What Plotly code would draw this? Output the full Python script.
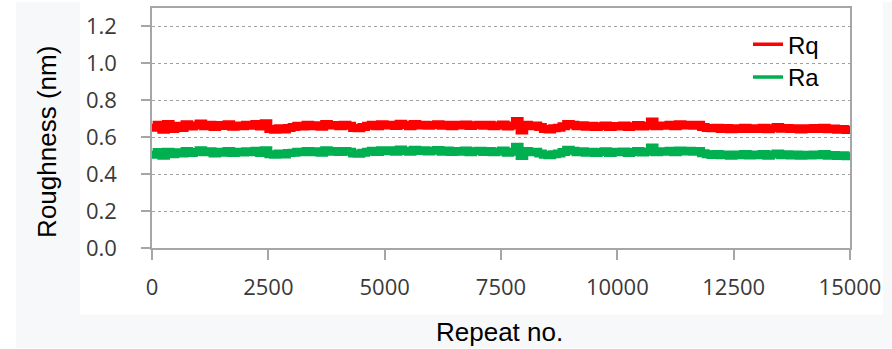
import plotly.graph_objects as go

# ---------------- data ----------------
repeat_no = list(range(0, 15001, 100))

rq = [
    0.652, 0.668, 0.640, 0.672, 0.645, 0.662, 0.650, 0.670, 0.658, 0.664,
    0.675, 0.660, 0.668, 0.655, 0.666, 0.661, 0.670, 0.657, 0.664, 0.659,
    0.668, 0.662, 0.672, 0.658, 0.676, 0.645, 0.640, 0.648, 0.642, 0.650,
    0.655, 0.662, 0.658, 0.668, 0.660, 0.665, 0.657, 0.672, 0.664, 0.666,
    0.660, 0.668, 0.662, 0.650, 0.648, 0.655, 0.662, 0.667, 0.660, 0.670,
    0.663, 0.668, 0.661, 0.673, 0.666, 0.660, 0.671, 0.664, 0.668, 0.662,
    0.666, 0.670, 0.662, 0.668, 0.660, 0.667, 0.663, 0.669, 0.661, 0.665,
    0.668, 0.662, 0.667, 0.660, 0.664, 0.669, 0.658, 0.664, 0.688, 0.636,
    0.668, 0.660, 0.664, 0.655, 0.645, 0.642, 0.648, 0.652, 0.660, 0.672,
    0.668, 0.660, 0.665, 0.657, 0.662, 0.655, 0.660, 0.664, 0.656, 0.661,
    0.658, 0.663, 0.655, 0.660, 0.666, 0.658, 0.662, 0.685, 0.660, 0.664,
    0.662, 0.668, 0.660, 0.670, 0.664, 0.668, 0.662, 0.667, 0.655, 0.650,
    0.648, 0.652, 0.645, 0.650, 0.643, 0.649, 0.645, 0.652, 0.644, 0.648,
    0.645, 0.651, 0.643, 0.648, 0.655, 0.646, 0.650, 0.644, 0.649, 0.642,
    0.648, 0.644, 0.650, 0.645, 0.652, 0.643, 0.647, 0.641, 0.645, 0.639,
    0.636,
]

ra = [
    0.505, 0.520, 0.500, 0.522, 0.508, 0.518, 0.512, 0.525, 0.515, 0.520,
    0.530, 0.518, 0.524, 0.512, 0.522, 0.516, 0.526, 0.514, 0.521, 0.517,
    0.524, 0.518, 0.527, 0.514, 0.530, 0.508, 0.505, 0.512, 0.506, 0.514,
    0.516, 0.522, 0.518, 0.526, 0.519, 0.524, 0.516, 0.530, 0.522, 0.525,
    0.520, 0.526, 0.521, 0.512, 0.510, 0.516, 0.522, 0.527, 0.520, 0.529,
    0.524, 0.530, 0.522, 0.533, 0.526, 0.521, 0.532, 0.525, 0.529, 0.523,
    0.527, 0.531, 0.522, 0.528, 0.520, 0.526, 0.522, 0.528, 0.519, 0.524,
    0.527, 0.520, 0.526, 0.518, 0.523, 0.528, 0.516, 0.522, 0.548, 0.498,
    0.525, 0.518, 0.522, 0.512, 0.505, 0.502, 0.508, 0.512, 0.520, 0.532,
    0.527, 0.519, 0.524, 0.516, 0.521, 0.514, 0.520, 0.524, 0.515, 0.521,
    0.518, 0.523, 0.515, 0.520, 0.525, 0.517, 0.522, 0.545, 0.519, 0.524,
    0.521, 0.527, 0.519, 0.528, 0.523, 0.527, 0.521, 0.525, 0.513, 0.508,
    0.504, 0.509, 0.502, 0.507, 0.500, 0.506, 0.502, 0.509, 0.501, 0.506,
    0.503, 0.509, 0.500, 0.506, 0.512, 0.503, 0.508, 0.501, 0.507, 0.500,
    0.505, 0.501, 0.507, 0.502, 0.509, 0.500, 0.504, 0.498, 0.503, 0.497,
    0.500,
]

series_names = ["Rq", "Ra"]
x_ticks = [0, 2500, 5000, 7500, 10000, 12500, 15000]
y_ticks = [0.0, 0.2, 0.4, 0.6, 0.8, 1.0, 1.2]
y_tick_labels = ["0.0", "0.2", "0.4", "0.6", "0.8", "1.0", "1.2"]

# ---------------- style ----------------
W, H = 892, 349
L, R, T, B = 152, 42, 6, 101
PW, PH = W - L - R, H - T - B
RED, GREEN = "#ff0000", "#00b050"
AXIS_GREY = "#a6a6a6"


def px_x(px):
    return (px - L) / PW


def px_y(py):
    return (H - B - py) / PH


fig = go.Figure()

legend_ids = ["legend", "legend2"]
for name, vals, col, lg in [(series_names[0], rq, RED, legend_ids[0]),
                            (series_names[1], ra, GREEN, legend_ids[1])]:
    fig.add_trace(go.Scatter(x=repeat_no, y=vals, mode="lines", name=name,
                             line=dict(color=col, width=8, shape="hv"),
                             showlegend=False, hoverinfo="skip"))
    # legend proxy with thinner line
    fig.add_trace(go.Scatter(x=[None], y=[None], mode="lines", name=name,
                             line=dict(color=col, width=3.5), showlegend=True,
                             legend=lg))

legend_font = dict(family="Liberation Sans, Arial, sans-serif", size=24, color="#000000")
legend_common = dict(xanchor="left", yanchor="middle", bgcolor="rgba(0,0,0,0)",
                     borderwidth=0, font=legend_font, itemwidth=30)

fig.update_layout(
    width=W, height=H,
    margin=dict(l=L, r=R, t=T, b=B, pad=0),
    paper_bgcolor="#ffffff",
    plot_bgcolor="#ffffff",
    font=dict(family="Open Sans, sans-serif", color="#3a3a3a"),
    showlegend=True,
    legend=dict(x=px_x(748), y=px_y(43), **legend_common),
    legend2=dict(x=px_x(748), y=px_y(76), **legend_common),
    xaxis=dict(range=[0, 15000], tickvals=x_ticks, ticktext=[str(v) for v in x_ticks],
               showgrid=False, zeroline=False,
               showline=True, linecolor=AXIS_GREY, linewidth=1.5, mirror=True,
               ticks="outside", ticklen=10, tickcolor=AXIS_GREY, tickwidth=1.5,
               tickfont=dict(size=22, family="Open Sans, sans-serif", color="#3a3a3a"),
               ticklabelstandoff=9),
    yaxis=dict(range=[0, 1.3], tickvals=y_ticks, ticktext=y_tick_labels,
               showgrid=True, gridcolor="#a0a0a0", gridwidth=1, griddash="dot",
               zeroline=False,
               showline=True, linecolor=AXIS_GREY, linewidth=1.5, mirror=True,
               ticks="outside", ticklen=9, tickcolor=AXIS_GREY, tickwidth=1.5,
               tickfont=dict(size=22, family="Open Sans, sans-serif", color="#3a3a3a"),
               ticklabelstandoff=20),
    shapes=[
        dict(type="rect", xref="paper", yref="paper", layer="below",
             x0=px_x(16), x1=px_x(W), y0=px_y(H), y1=px_y(0),
             fillcolor="#f7f8fa", line=dict(width=0)),
        dict(type="rect", xref="paper", yref="paper", layer="below",
             x0=px_x(80), x1=px_x(883), y0=px_y(315), y1=px_y(0),
             fillcolor="#ffffff", line=dict(width=0)),
    ],
    annotations=[
        dict(text="Roughness (nm)", xref="paper", yref="paper",
             x=px_x(47), y=px_y(141), xanchor="center", yanchor="middle",
             textangle=-90, showarrow=False,
             font=dict(family="Liberation Sans, Arial, sans-serif", size=26, color="#000000")),
        dict(text="Repeat no.", xref="paper", yref="paper",
             x=px_x(499), y=px_y(333), xanchor="center", yanchor="middle",
             showarrow=False,
             font=dict(family="Liberation Sans, Arial, sans-serif", size=26, color="#000000")),
    ],
)

fig.write_html("out.html")
